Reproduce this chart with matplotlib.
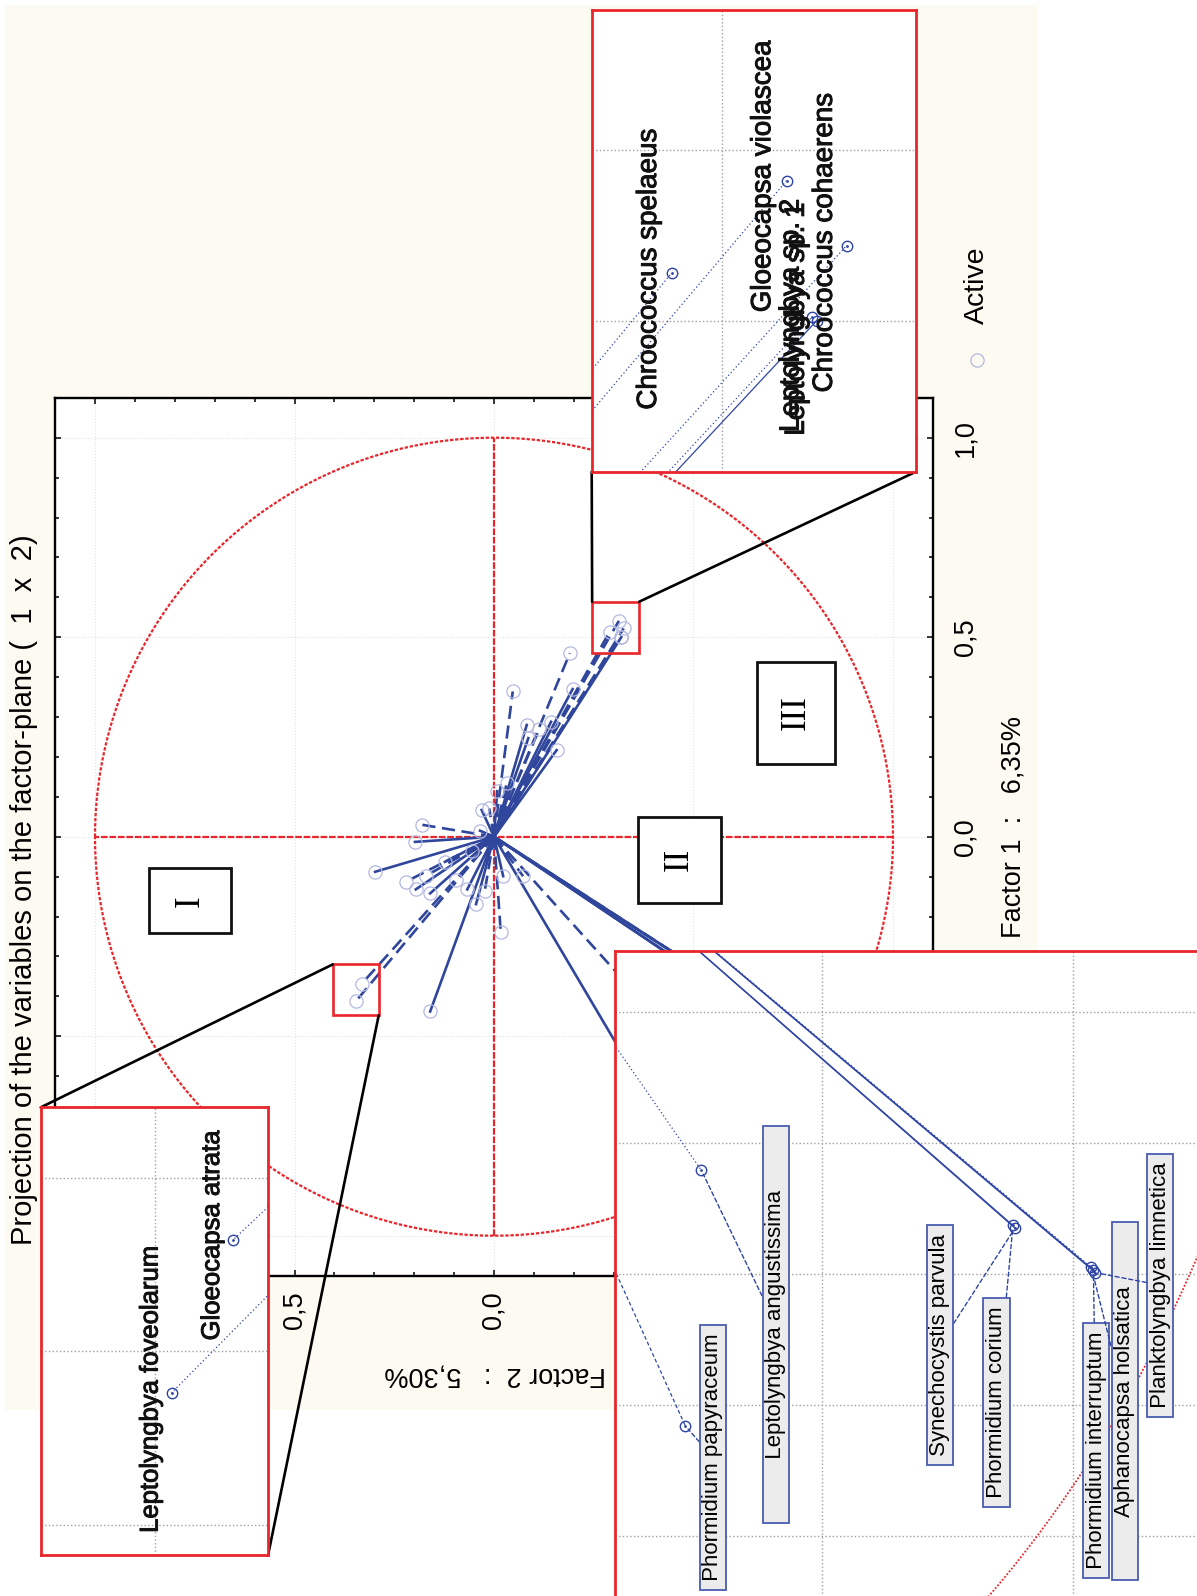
import numpy as np
import matplotlib.pyplot as plt
import matplotlib.patheffects as pe
from matplotlib.patches import Rectangle, ConnectionPatch
from matplotlib.lines import Line2D
from matplotlib.ticker import MultipleLocator, FixedLocator, FuncFormatter

plt.rcParams['font.family'] = ['Liberation Sans', 'DejaVu Sans']

W, H = 1197, 1596

# loadings of the variables on factor 1 and factor 2 (1 = dashed vector)
names = (
    ['Chroococcus spelaeus', 'Gloeocapsa violascea', 'Chroococcus cohaerens',
     'Leptolyngbya sp. 1', 'Leptolyngbya sp. 2'] + [''] * 10
    + [''] * 5
    + [''] * 11 + ['Gloeocapsa atrata', 'Leptolyngbya foveolarum', '']
    + ['', '', '', 'Phormidium papyraceum', 'Leptolyngbya angustissima',
       'Synechocystis parvula', 'Phormidium corium', 'Phormidium interruptum',
       'Aphanocapsa holsatica', 'Planktolyngbya limnetica']
)
factor1 = [0.514, 0.541, 0.522, 0.500, 0.501, 0.460, 0.364, 0.370, 0.280, 0.269,
           0.288, 0.247, 0.217, 0.134, 0.114,
           0.067, 0.071, 0.015, 0.030, -0.013,
           -0.088, -0.113, -0.132, -0.142, -0.098, -0.063, -0.108, -0.132, -0.169, -0.135,
           -0.037, -0.368, -0.412, -0.438,
           -0.240, -0.099, -0.099, -0.616, -0.421, -0.465, -0.463, -0.497, -0.495, -0.499]
factor2 = [-0.290, -0.313, -0.325, -0.319, -0.318, -0.190, -0.047, -0.197, -0.082, -0.113,
           -0.143, -0.086, -0.157, -0.032, -0.008,
           0.031, 0.012, 0.035, 0.181, 0.198,
           0.298, 0.221, 0.196, 0.160, 0.170, 0.123, 0.095, 0.067, 0.045, 0.023,
           0.056, 0.331, 0.346, 0.160,
           -0.017, -0.023, -0.073, -0.364, -0.380, -0.692, -0.690, -0.770, -0.768, -0.772]
dashed = [1, 1, 1, 0, 1, 1, 1, 0, 0, 1, 0, 0, 0, 1, 0,
          0, 1, 0, 1, 0,
          0, 1, 0, 0, 1, 0, 1, 0, 0, 1, 0, 1, 1, 0,
          1, 0, 1, 0, 1, 0, 0, 0, 1, 0]

title = 'Projection of the variables on the factor-plane (  1  x  2)'
xlabel = 'Factor 2  :   5,30%'
ylabel = 'Factor 1  :   6,35%'
ticks = [-1.0, -0.5, 0.0, 0.5, 1.0]

BLUE = '#2f469c'
RED = '#e8262b'
DARK = '#2f45a5'


def px_rect(x0, y0, x1, y1):
    return [x0 / W, 1 - y1 / H, (x1 - x0) / W, (y1 - y0) / H]


fig = plt.figure(figsize=(W / 100, H / 100), dpi=100)
fig.add_artist(Rectangle((5 / W, 1 - 1410 / H), 1033 / W, 1405 / H,
                         transform=fig.transFigure, fc='#fdfaf1', ec='none', zorder=-10))

# ---- main factor plane (factor 2 runs right-to-left, factor 1 bottom-to-top)
ax = fig.add_axes(px_rect(55.1, 397.8, 932.9, 1275.6))
ax.set_facecolor('white')
ax.set_xlim(1.1, -1.1)
ax.set_ylim(-1.1, 1.1)
fmt = FuncFormatter(lambda v, p: f'{v:.1f}'.replace('.', ','))
for axis in (ax.xaxis, ax.yaxis):
    axis.set_major_locator(FixedLocator(ticks))
    axis.set_minor_locator(MultipleLocator(0.1))
    axis.set_major_formatter(fmt)
ax.tick_params(which='both', direction='in', top=True, bottom=True, left=True, right=True,
               labelleft=False, labelright=True, labelbottom=True, width=1.1)
ax.tick_params(which='major', length=4.5)
ax.tick_params(which='minor', length=2.6)
ax.tick_params(axis='x', labelrotation=90, pad=11, labelsize=19.5)
ax.tick_params(axis='y', labelrotation=90, pad=14, labelsize=19.5)
plt.setp(ax.get_yticklabels(), va='center')
for s in ax.spines.values():
    s.set_linewidth(1.7)
ax.grid(True, which='major', color='#e2e2e2', ls=':', lw=0.8)

t = np.linspace(0, 2 * np.pi, 600)
ax.plot(np.cos(t), np.sin(t), color=RED, ls=(0, (1.5, 0.8)), lw=1.6, zorder=2)
ax.plot([-1, 1], [0, 0], color=RED, ls=(0, (3, 0.8)), lw=1.6, zorder=2)
ax.plot([0, 0], [-1, 1], color=RED, ls=(0, (3, 0.8)), lw=1.6, zorder=2)

for f1, f2, d in zip(factor1, factor2, dashed):
    ax.plot([0, f2], [0, f1], color=BLUE, lw=1.9, ls=(0, (5, 2.5)) if d else '-', zorder=3)
ax.plot(factor2, factor1, 'o', mfc='none', mec='#b3b8e0', ms=9.5, mew=0.9, zorder=4)

# quadrant group labels
for lab, x0, x1, y0, y1 in [('I', 0.659, 0.865, -0.242, -0.079),
                            ('II', -0.568, -0.362, -0.165, 0.050),
                            ('III', -0.855, -0.660, 0.182, 0.439)]:
    ax.add_patch(Rectangle((x1, y0), x0 - x1, y1 - y0, fc='white', ec='#111111',
                           lw=2, zorder=6))
    ax.text((x0 + x1) / 2, (y0 + y1) / 2, lab, rotation=90, ha='center', va='center',
            family=['Liberation Serif', 'DejaVu Serif'], fontsize=25, zorder=7)

# source boxes of the zoomed views
for x0, x1, y0, y1 in [(-0.364, -0.246, 0.460, 0.589), (0.289, 0.404, -0.448, -0.320)]:
    ax.add_patch(Rectangle((x0, y0), x1 - x0, y1 - y0, fill=False, ec=RED, lw=1.9, zorder=6))

fig.text(24 / W, 1 - 890 / H, title, rotation=90, ha='center', va='center', fontsize=21)
fig.text(1013 / W, 1 - 827 / H, ylabel, rotation=90, ha='center', va='center', fontsize=19.5)
fig.text(495 / W, 1 - 1375 / H, xlabel, rotation=180, ha='center', va='center', fontsize=19.5)

# legend
fig.add_artist(Line2D([977 / W], [1 - 360 / H], transform=fig.transFigure, marker='o',
                      mfc='none', mec='#b3b8e0', ms=9.5, mew=0.9))
fig.text(977 / W, 1 - 285 / H, 'Active', rotation=90, ha='center', va='center', fontsize=20.5)


def zoom_view(rect, xlim, ylim, xgrid, ygrid):
    a = fig.add_axes(px_rect(*rect), zorder=5)
    a.set_facecolor('white')
    a.set_xlim(*xlim)
    a.set_ylim(*ylim)
    a.set_xticks(xgrid)
    a.set_yticks(ygrid)
    a.tick_params(length=0, labelbottom=False, labelleft=False)
    a.grid(True, color='#a0a0a0', ls=':', lw=1.0)
    for s in a.spines.values():
        s.set_color(RED)
        s.set_linewidth(2.0)
    return a


inset_ls = {'Leptolyngbya sp. 1': '-', 'Phormidium papyraceum': (0, (3, 2)),
            'Synechocystis parvula': '-', 'Phormidium corium': '-',
            'Phormidium interruptum': '-', 'Planktolyngbya limnetica': '-'}


def draw_vectors(a):
    a.plot(np.cos(t), np.sin(t), color=RED, ls=(0, (1, 1)), lw=1.3)
    for f1, f2, n in zip(factor1, factor2, names):
        a.plot([0, f2], [0, f1], color=DARK, lw=0.9, ls=inset_ls.get(n, (0, (1, 2))))
    a.plot(factor2, factor1, 'o', mfc='none', mec=DARK, ms=7.5, mew=1.0)
    a.plot(factor2, factor1, '.', color=DARK, ms=2)


ax_tr = zoom_view((591.7, 10, 916, 471.7), (-0.274, -0.3389), (0.4559, 0.5909),
                  [-0.30], [0.50, 0.55])
ax_bl = zoom_view((40.7, 1107.4, 268.1, 1555), (0.378, 0.3224), (-0.4587, -0.3298),
                  [0.35], [-0.45, -0.40, -0.35])
ax_br = zoom_view((615.2, 950.5, 1260, 1660), (-0.2942, -0.9358), (-0.7947, -0.2531),
                  [-0.5, -0.75], [-0.7, -0.6, -0.5, -0.4, -0.3])
for a in (ax_tr, ax_bl, ax_br):
    draw_vectors(a)

# plain labels in the two small zooms (offsets in points)
plain = {'Chroococcus spelaeus': (ax_tr, -16.3, 2.5, 20),
         'Gloeocapsa violascea': (ax_tr, -16.8, 2.9, 20),
         'Leptolyngbya sp. 1': (ax_tr, -14.2, 1.0, 20),
         'Leptolyngbya sp. 2': (ax_tr, -14.4, 1.2, 20),
         'Chroococcus cohaerens': (ax_tr, -15.6, 1.8, 20),
         'Gloeocapsa atrata': (ax_bl, -15.0, 3.6, 18.5),
         'Leptolyngbya foveolarum': (ax_bl, -15.1, 2.9, 18.5)}
# boxed labels with leaders in the large zoom: offset in points, blank padding
boxed = {'Phormidium papyraceum': (19.9, -22.8, 1),
         'Leptolyngbya angustissima': (53.5, -110.8, 10),
         'Synechocystis parvula': (-54.1, -84.1, 1),
         'Phormidium corium': (-11.8, -127.3, 1),
         'Phormidium interruptum': (2.1, -130.0, 1),
         'Aphanocapsa holsatica': (24.0, -96.3, 10),
         'Planktolyngbya limnetica': (46.7, -9.0, 1)}
bold = [pe.withStroke(linewidth=0.7, foreground='#111111')]

for f1, f2, n in zip(factor1, factor2, names):
    if n in plain:
        a, dx, dy, fs = plain[n]
        a.annotate(n, (f2, f1), xytext=(dx, dy), textcoords='offset points', rotation=90,
                   ha='center', va='center', fontsize=fs, color='#111111', path_effects=bold)
    elif n in boxed:
        dx, dy, k = boxed[n]
        ax_br.annotate(' ' * k + n + ' ' * k, (f2, f1), xytext=(dx, dy),
                       textcoords='offset points', rotation=90,
                       ha='center', va='center', fontsize=16,
                       bbox=dict(boxstyle='square,pad=0.12', fc='#ececec', ec='#4a5cb0', lw=1.3),
                       arrowprops=dict(arrowstyle='-', ls=(0, (3, 2)), color=DARK, lw=1.0,
                                       shrinkA=0, shrinkB=3))

# connectors between source boxes and zoomed views
for xyA, a, xyB in [((-0.246, 0.589), ax_tr, (0, 0)), ((-0.364, 0.589), ax_tr, (1, 0)),
                    ((0.404, -0.320), ax_bl, (0, 1)), ((0.289, -0.448), ax_bl, (1, 0))]:
    con = ConnectionPatch(xyA=xyA, coordsA=ax.transData, xyB=xyB, coordsB=a.transAxes,
                          color='black', lw=1.9, zorder=4)
    fig.add_artist(con)

fig.savefig('out.png', dpi=100)
